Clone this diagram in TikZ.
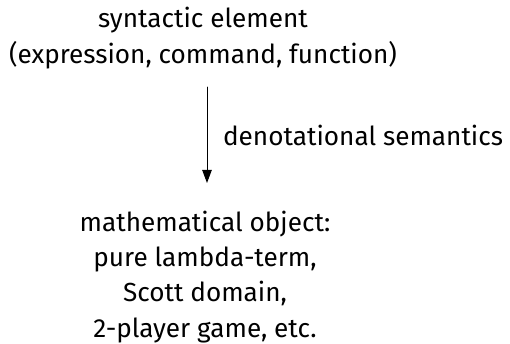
\documentclass[tikz,border=0pt]{standalone}
\usepackage{fontspec}
\setmainfont{Fira Sans}
\usetikzlibrary{arrows.meta,positioning}

\begin{document}
\begin{tikzpicture}[x=0.41667pt,y=-0.41667pt,line cap=round,line join=round,
  >={Triangle[length=5.5pt,width=4pt]},
  txt/.style={align=center,inner sep=0pt,font=\fontsize{10.9}{14.6}\selectfont}]
\useasboundingbox (0,0) rectangle (510,344);
% syntax on top, meaning below
\node[txt,anchor=base] (syn) at (203,63) {syntactic element\\(expression, command, function)};
\node[txt,anchor=base] (obj) at (205,337) {mathematical object:\\pure lambda-term,\\Scott domain,\\2-player game, etc.};
\coordinate (from) at (207,87);
\coordinate (to) at (207,183);
\draw[->,thin] (from) -- (to) node[midway,right=6.5pt,txt] (den) {denotational semantics};
\end{tikzpicture}
\end{document}
